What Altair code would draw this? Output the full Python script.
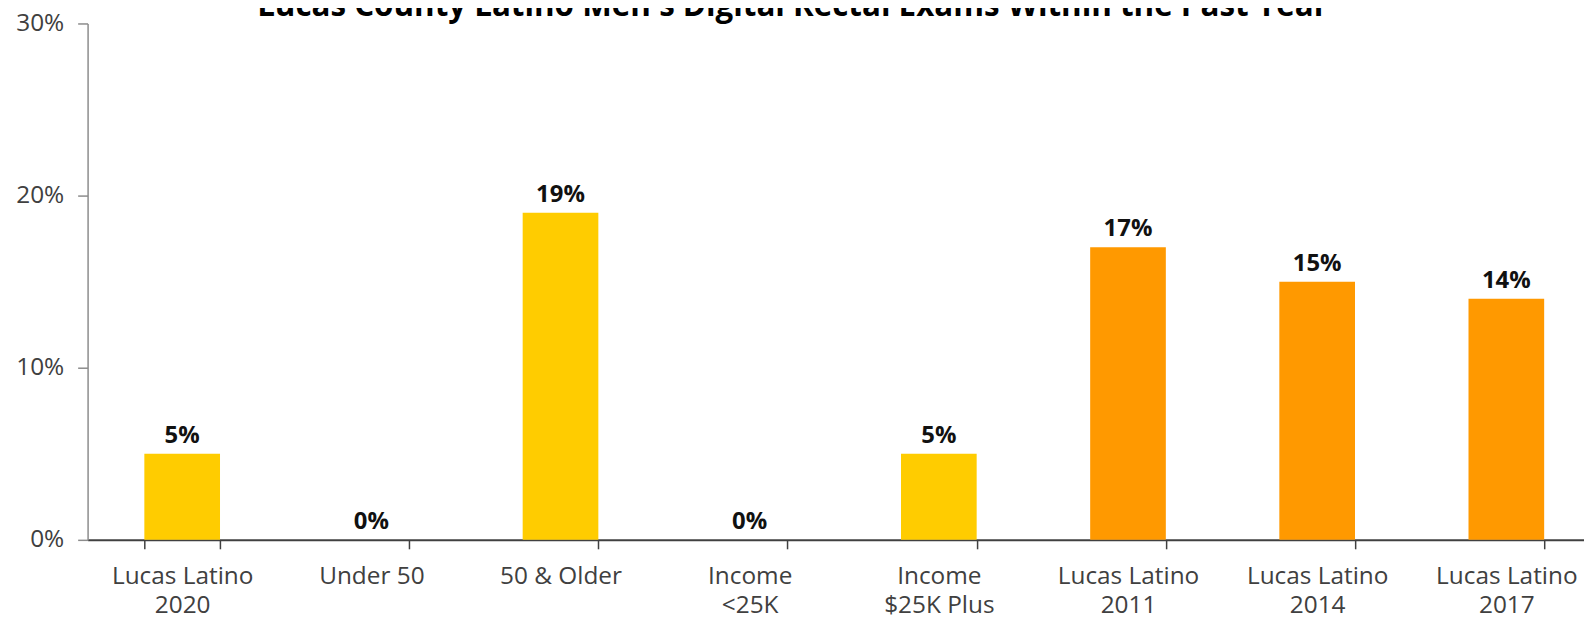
import altair as alt
import pandas as pd

title_text = "Lucas County Latino Men's Digital Rectal Exams Within the Past Year"
categories = ["Lucas Latino|2020", "Under 50", "50 & Older", "Income|<25K",
              "Income|$25K Plus", "Lucas Latino|2011", "Lucas Latino|2014", "Lucas Latino|2017"]
values = [0.05, 0.00, 0.19, 0.00, 0.05, 0.17, 0.15, 0.14]
groups = ["2020", "2020", "2020", "2020", "2020", "Trend", "Trend", "Trend"]
y_ticks = [0, 0.1, 0.2, 0.3]

df = pd.DataFrame({"category": categories, "value": values, "group": groups})

FONT = "Open Sans"

x_enc = alt.X(
    "category:N",
    sort=None,
    scale=alt.Scale(paddingInner=0.6, paddingOuter=0.3),
    axis=alt.Axis(
        title=None,
        labelAngle=0,
        labelExpr="split(datum.label, '|')",
        labelFont=FONT,
        labelFontSize=24.5,
        labelColor="#404040",
        labelLineHeight=29,
        labelPadding=16,
        tickBand="extent",
        tickSize=9,
        tickColor="#404040",
        tickWidth=1.5,
        domainColor="#404040",
        domainWidth=2,
        labelOverlap=False,
        labelBound=False,
    ),
)

y_enc = alt.Y(
    "value:Q",
    scale=alt.Scale(domain=[0, 0.3], nice=False),
    axis=alt.Axis(
        title=None,
        values=y_ticks,
        format=".0%",
        grid=False,
        labelFont=FONT,
        labelFontSize=24.5,
        labelColor="#404040",
        labelPadding=14,
        tickSize=10,
        tickColor="#8c8c8c",
        tickWidth=1.5,
        domainColor="#8c8c8c",
        domainWidth=1.5,
    ),
)

bars = alt.Chart(df).mark_bar().encode(
    x=x_enc,
    y=y_enc,
    color=alt.Color("group:N", scale=alt.Scale(domain=["2020", "Trend"],
                                               range=["#FFCC00", "#FF9900"]), legend=None),
)

labels = alt.Chart(df).mark_text(
    dy=-11, baseline="alphabetic", font=FONT, fontSize=24, fontWeight="bold", color="#111111"
).encode(
    x=alt.X("category:N", sort=None),
    y=alt.Y("value:Q"),
    text=alt.Text("value:Q", format=".0%"),
)

chart = alt.layer(bars, labels).properties(
    width=1521,
    height=519,
    title=alt.TitleParams(
        text=title_text,
        font=FONT,
        fontSize=31.5,
        fontWeight="bold",
        color="#000000",
        anchor="middle",
        frame="group",
        dx=-52,
        offset=-12,
    ),
    autosize=alt.AutoSizeParams(type="none"),
    padding={"left": 80, "top": 14, "right": -17, "bottom": 76},
).configure_view(stroke=None)

chart.save("out.html", embed_options={"renderer": "svg", "actions": False})
